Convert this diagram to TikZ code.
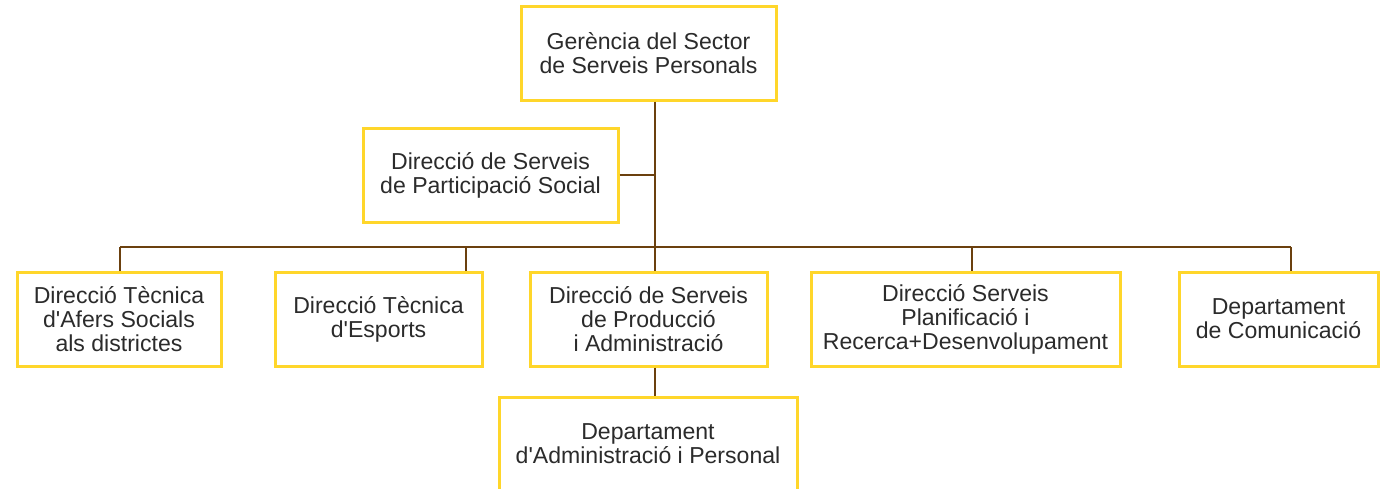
\documentclass[tikz,border=0pt]{standalone}
\usepackage{fontspec}
\setmainfont{Liberation Sans}
\definecolor{boxyellow}{HTML}{FFD62A}
\definecolor{linebrown}{HTML}{6B400E}
\definecolor{textgray}{HTML}{2B2B2B}
\begin{document}
\begin{tikzpicture}[x=0.75pt, y=-0.75pt,
  unit/.style={draw=boxyellow, line width=2.25pt, fill=white, align=center,
    text=textgray, font=\fontsize{17.3}{18}\selectfont,
    minimum height=70.5pt, inner sep=0pt},
  link/.style={draw=linebrown, line width=2.1pt}]
\clip (0,0) rectangle (1382,489);
\fill[white] (0,0) rectangle (1382,489);
\coordinate (bus) at (655,247);
\coordinate (d1) at (120,247);
\coordinate (d2) at (466,247);
\coordinate (d4) at (972,247);
\coordinate (d5) at (1291,247);
\node[unit, minimum width=191.25pt] (G) at (648.5,53) {Gerència del Sector\\de Serveis Personals};
\node[unit, minimum width=191.25pt] (PS) at (490.5,175) {Direcció de Serveis\\de Participació Social};
\node[unit, minimum width=153pt] (AS) at (119,319) {Direcció Tècnica\\d\textquotesingle Afers Socials\\als districtes};
\node[unit, minimum width=155.25pt] (ES) at (378.5,319) {Direcció Tècnica\\d\textquotesingle Esports};
\node[unit, minimum width=177.75pt] (PA) at (648.5,319) {Direcció de Serveis\\de Producció\\i Administració};
\node[unit, minimum width=231.75pt] (RD) at (965.5,319) {Direcció Serveis\\Planificació i\\Recerca+Desenvolupament};
\node[unit, minimum width=149.25pt] (CO) at (1278.5,319) {Departament\\de Comunicació};
\node[unit, minimum width=223.5pt] (AP) at (648,444) {Departament\\d\textquotesingle Administració i Personal};
\draw[link] (G.south -| bus) -- (PA.north -| bus);
\draw[link] (PS.east) -- (PS.east -| bus);
\draw[link] (d1) -- (d5);
\draw[link] (d1) -- (d1 |- AS.north);
\draw[link] (d2) -- (d2 |- ES.north);
\draw[link] (d4) -- (d4 |- RD.north);
\draw[link] (d5) -- (d5 |- CO.north);
\draw[link] (PA.south -| bus) -- (AP.north -| bus);
\end{tikzpicture}
\end{document}
